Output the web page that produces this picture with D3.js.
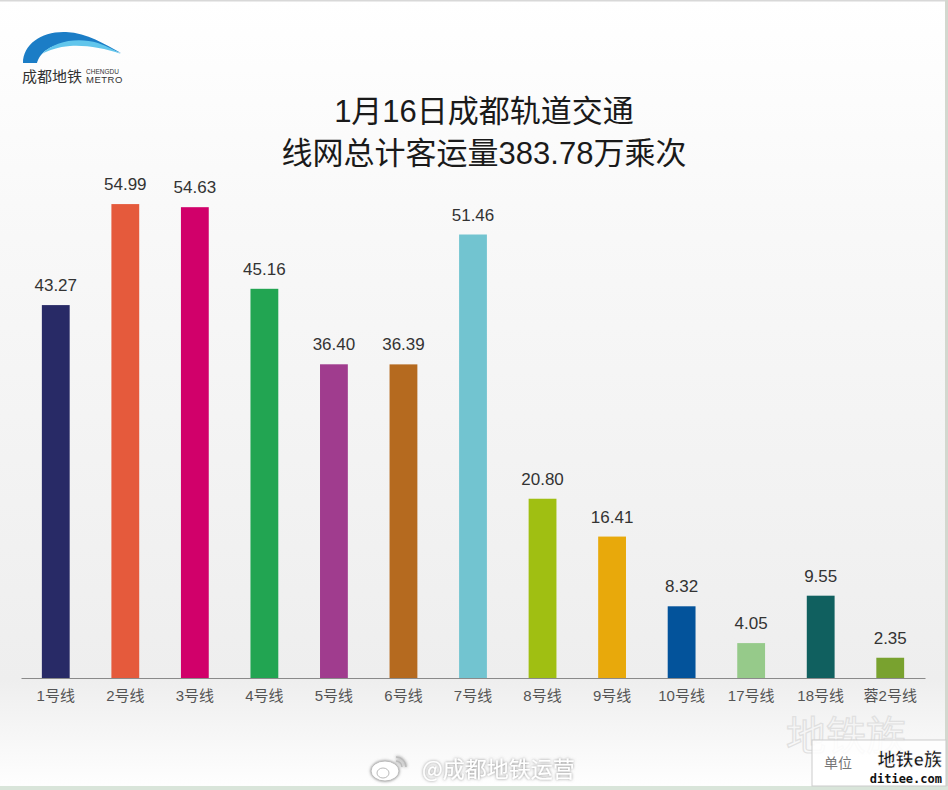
<!DOCTYPE html>
<html>
<head>
<meta charset="utf-8">
<script src="https://cdn.jsdelivr.net/npm/d3@7"></script>
<style>
  body { margin: 0; background: #ffffff; }
  svg { display: block; }
</style>
</head>
<body>
<div id="chart"></div>
<script>
// Data.
const lines = ['1号线', '2号线', '3号线', '4号线', '5号线', '6号线', '7号线',
               '8号线', '9号线', '10号线', '17号线', '18号线', '蓉2号线'];
const riders = [43.27, 54.99, 54.63, 45.16, 36.40, 36.39, 51.46,
                20.80, 16.41, 8.32, 4.05, 9.55, 2.35];
const lineColors = ['#282a66', '#e55a3c', '#d1006a', '#22a552', '#a03c8e', '#b56a1f', '#72c4d0',
                    '#a0bf12', '#e8a90b', '#03539b', '#96ca8a', '#10605f', '#79a22f'];
const titleLines = ['1月16日成都轨道交通', '线网总计客运量383.78万乘次'];

const width = 948;
const height = 790;
const fontCn = '"Liberation Sans", "Noto Sans CJK SC", sans-serif';

const svg = d3.select('#chart')
  .append('svg')
  .attr('width', width)
  .attr('height', height);

// Background gradient.
const defs = svg.append('defs');
const grad = defs.append('linearGradient')
  .attr('id', 'bg')
  .attr('x1', 0).attr('y1', 0).attr('x2', 0).attr('y2', 1);
grad.append('stop').attr('offset', '0%').attr('stop-color', '#ffffff');
grad.append('stop').attr('offset', '30%').attr('stop-color', '#f8f8f8');
grad.append('stop').attr('offset', '86%').attr('stop-color', '#eeeeee');
grad.append('stop').attr('offset', '100%').attr('stop-color', '#ffffff');

const shadow = defs.append('filter').attr('id', 'glow')
  .attr('x', '-10%').attr('y', '-30%').attr('width', '120%').attr('height', '160%');
shadow.append('feDropShadow')
  .attr('dx', 0).attr('dy', 0).attr('stdDeviation', 1.6)
  .attr('flood-color', '#666').attr('flood-opacity', 0.8);

svg.append('rect')
  .attr('width', width).attr('height', height)
  .attr('fill', 'url(#bg)');

// Frame edges.
svg.append('rect').attr('x', 0).attr('y', 0).attr('width', width).attr('height', 1.5).attr('fill', '#d8d8d8');
svg.append('rect').attr('x', 945).attr('y', 0).attr('width', 3).attr('height', height).attr('fill', '#d3d8cf');
svg.append('rect').attr('x', 0).attr('y', 786).attr('width', width).attr('height', 4).attr('fill', '#d9e5da');

// Logo.
const logo = svg.append('g').attr('class', 'logo');
logo.append('path')
  .attr('d', 'M23,63 C23,44 42,31 66,32 C88,33 104,44 121,53 C103,47 88,43 72,43 C52,43 40,52 37,63 Z')
  .attr('fill', '#1b7dc6');
logo.append('path')
  .attr('d', 'M42,54 C54,41 78,37 98,43 C107,46 115,50 121,54 C104,48 86,45 70,46 C58,47 49,50 42,54 Z')
  .attr('fill', '#62c6ec');
logo.append('text')
  .attr('x', 22).attr('y', 82)
  .attr('font-family', '"Noto Sans CJK SC", sans-serif')
  .attr('font-size', 15)
  .attr('fill', '#333')
  .text('成都地铁');
logo.append('text')
  .attr('x', 86).attr('y', 74)
  .attr('font-family', '"Liberation Sans", sans-serif')
  .attr('font-size', 6.5)
  .attr('fill', '#333')
  .text('CHENGDU');
logo.append('text')
  .attr('x', 86).attr('y', 83)
  .attr('font-family', '"Liberation Sans", sans-serif')
  .attr('font-size', 9.5)
  .attr('letter-spacing', 0.5)
  .attr('fill', '#333')
  .text('METRO');

// Title.
svg.append('g')
  .selectAll('text')
  .data(titleLines)
  .join('text')
  .attr('x', 484)
  .attr('y', (d, i) => 122 + i * 42)
  .attr('text-anchor', 'middle')
  .attr('font-family', fontCn)
  .attr('font-size', 31)
  .attr('fill', '#1a1a1a')
  .text(d => d);

// Scales.
const x = d3.scaleBand()
  .domain(lines)
  .range([21, 925])
  .paddingInner(0.6)
  .paddingOuter(0.3);

const y = d3.scaleLinear()
  .domain([0, 55])
  .range([678, 204]);

const data = lines.map((name, i) => ({ name: name, value: riders[i], color: lineColors[i] }));

// Bars.
svg.append('g')
  .selectAll('rect')
  .data(data)
  .join('rect')
  .attr('x', d => x(d.name))
  .attr('y', d => y(d.value))
  .attr('width', x.bandwidth())
  .attr('height', d => y(0) - y(d.value))
  .attr('fill', d => d.color);

// Value labels.
svg.append('g')
  .selectAll('text')
  .data(data)
  .join('text')
  .attr('x', d => x(d.name) + x.bandwidth() / 2)
  .attr('y', d => y(d.value) - 14)
  .attr('text-anchor', 'middle')
  .attr('font-family', fontCn)
  .attr('font-size', 17)
  .attr('fill', '#333')
  .text(d => d.value.toFixed(2));

// Axis.
const axis = svg.append('g')
  .attr('transform', `translate(0,${y(0)})`)
  .call(d3.axisBottom(x).tickSize(0).tickPadding(12));
axis.select('.domain').attr('stroke', '#8a8a8a').attr('stroke-width', 1.2);
axis.selectAll('text')
  .attr('font-family', fontCn)
  .attr('font-size', 15)
  .attr('fill', '#555');

// Watermarks.
svg.append('text')
  .attr('x', 422).attr('y', 777)
  .attr('font-family', '"Noto Sans CJK SC", sans-serif')
  .attr('font-size', 22)
  .attr('fill', '#ffffff')
  .attr('filter', 'url(#glow)')
  .text('@成都地铁运营');
const weibo = svg.append('g').attr('filter', 'url(#glow)');
weibo.append('ellipse').attr('cx', 385).attr('cy', 771).attr('rx', 14).attr('ry', 10)
  .attr('fill', '#fff').attr('stroke', '#bbb');
weibo.append('ellipse').attr('cx', 383).attr('cy', 773).attr('rx', 6).attr('ry', 5)
  .attr('fill', 'none').attr('stroke', '#bbb');
weibo.append('path').attr('d', 'M396,757 A10,10 0 0 1 406,767 M396,761 A6,6 0 0 1 402,767')
  .attr('fill', 'none').attr('stroke', '#bbb').attr('stroke-width', 1.5);

svg.append('text')
  .attr('x', 786).attr('y', 750)
  .attr('font-family', '"Noto Sans CJK SC", sans-serif')
  .attr('font-size', 40)
  .attr('fill', 'none')
  .attr('stroke', '#e0e0e0')
  .attr('stroke-width', 1.2)
  .text('地铁族');

const badge = svg.append('g');
badge.append('rect')
  .attr('x', 812).attr('y', 740).attr('width', 134).attr('height', 46)
  .attr('fill', '#ffffff').attr('fill-opacity', 0.85)
  .attr('stroke', '#cccccc');
badge.append('text')
  .attr('x', 824).attr('y', 768)
  .attr('font-family', '"Noto Sans CJK SC", sans-serif')
  .attr('font-size', 14)
  .attr('fill', '#777')
  .text('单位');
badge.append('text')
  .attr('x', 942).attr('y', 766)
  .attr('text-anchor', 'end')
  .attr('font-family', '"Noto Sans CJK SC", sans-serif')
  .attr('font-size', 18)
  .attr('font-weight', 'bold')
  .attr('fill', '#111')
  .attr('stroke', '#fff')
  .attr('stroke-width', 0.6)
  .text('地铁e族');
badge.append('text')
  .attr('x', 942).attr('y', 783)
  .attr('text-anchor', 'end')
  .attr('font-family', '"DejaVu Sans Mono", monospace')
  .attr('font-size', 12)
  .attr('font-weight', 'bold')
  .attr('fill', '#111')
  .text('ditiee.com');
</script>
</body>
</html>
